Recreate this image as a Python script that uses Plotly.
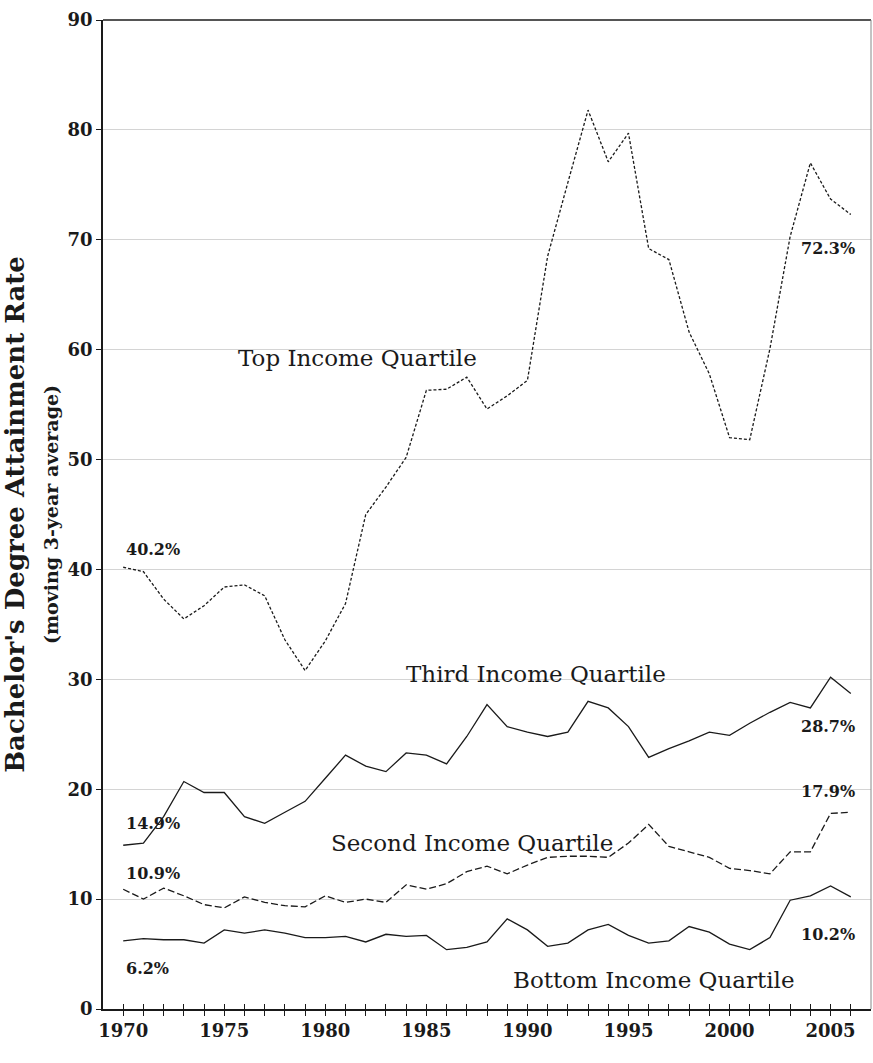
import plotly.graph_objects as go

years = list(range(1970, 2007))

top_quartile = [40.2, 39.8, 37.3, 35.5, 36.7, 38.4, 38.6, 37.6, 33.6, 30.8,
                33.5, 36.9, 45.0, 47.5, 50.2, 56.3, 56.4, 57.5, 54.6, 55.8,
                57.2, 68.5, 75.2, 81.8, 77.1, 79.7, 69.2, 68.2, 61.6, 57.8,
                52.0, 51.8, 60.1, 70.3, 77.0, 73.7, 72.3]
third_quartile = [14.9, 15.1, 17.5, 20.7, 19.7, 19.7, 17.5, 16.9, 17.9, 18.9,
                  21.0, 23.1, 22.1, 21.6, 23.3, 23.1, 22.3, 24.8, 27.7, 25.7,
                  25.2, 24.8, 25.2, 28.0, 27.4, 25.7, 22.9, 23.7, 24.4, 25.2,
                  24.9, 26.0, 27.0, 27.9, 27.4, 30.2, 28.7]
second_quartile = [10.9, 10.0, 11.0, 10.3, 9.5, 9.2, 10.2, 9.7, 9.4, 9.3,
                   10.3, 9.7, 10.0, 9.7, 11.3, 10.9, 11.4, 12.5, 13.0, 12.3,
                   13.1, 13.8, 13.9, 13.9, 13.8, 15.1, 16.8, 14.8, 14.3, 13.8,
                   12.8, 12.6, 12.3, 14.3, 14.3, 17.8, 17.9]
bottom_quartile = [6.2, 6.4, 6.3, 6.3, 6.0, 7.2, 6.9, 7.2, 6.9, 6.5,
                   6.5, 6.6, 6.1, 6.8, 6.6, 6.7, 5.4, 5.6, 6.1, 8.2,
                   7.2, 5.7, 6.0, 7.2, 7.7, 6.7, 6.0, 6.2, 7.5, 7.0,
                   5.9, 5.4, 6.5, 9.9, 10.3, 11.2, 10.2]

serif = "DejaVu Serif"
ink = "#1a1a1a"

fig = go.Figure()

# series: (values, dash pattern)
series = [
    (top_quartile, "3px,2px"),
    (third_quartile, "solid"),
    (second_quartile, "7px,3px"),
    (bottom_quartile, "solid"),
]
for vals, dash in series:
    fig.add_trace(go.Scatter(x=years, y=vals, mode="lines",
                             line=dict(color=ink, width=1.3, dash=dash),
                             showlegend=False))

# series labels (left edge, y)
labels = [
    ("Top Income Quartile", 1975.6, 59.2),
    ("Third Income Quartile", 1983.9, 30.5),
    ("Second Income Quartile", 1980.2, 15.1),
    ("Bottom Income Quartile", 1989.2, 2.6),
]
for text, x, y in labels:
    fig.add_annotation(x=x, y=y, text=text, showarrow=False, xanchor="left",
                       font=dict(family=serif, size=23, color=ink))

# start / end values
start_labels = [("40.2%", 41.8), ("14.9%", 16.9), ("10.9%", 12.3), ("6.2%", 3.7)]
end_labels = [("72.3%", 69.2), ("28.7%", 25.7), ("17.9%", 19.8), ("10.2%", 6.8)]
for text, y in start_labels:
    fig.add_annotation(x=1970, y=y, text="<b>" + text + "</b>", showarrow=False,
                       xanchor="left", xshift=1,
                       font=dict(family=serif, size=16, color=ink))
for text, y in end_labels:
    fig.add_annotation(x=2006, y=y, text="<b>" + text + "</b>", showarrow=False,
                       xanchor="right", xshift=6,
                       font=dict(family=serif, size=16, color=ink))

tick_text = [str(y) if y % 5 == 0 else "" for y in years]

fig.update_layout(
    width=873, height=1063,
    margin=dict(l=103, r=2, t=20, b=54),
    plot_bgcolor="white", paper_bgcolor="white",
    font=dict(family=serif, color=ink),
    xaxis=dict(range=[1969, 2007], tickvals=years, ticktext=tick_text,
               ticks="outside", ticklen=5, tickcolor=ink, showgrid=False,
               showline=True, linecolor=ink, linewidth=1.5, zeroline=False,
               automargin=False,
               tickfont=dict(family=serif, size=18, color=ink, weight="bold")),
    # second x axis only to draw the inner half of the crossing ticks
    xaxis2=dict(range=[1969, 2007], overlaying="x", anchor="y", side="bottom",
                tickvals=years, ticks="inside", ticklen=5, tickcolor=ink,
                showticklabels=False, showgrid=False, showline=False,
                zeroline=False, automargin=False),
    yaxis=dict(range=[0, 90], tickvals=list(range(0, 100, 10)),
               ticks="outside", ticklen=5, tickcolor=ink,
               showgrid=True, gridcolor="#d4d4d4", gridwidth=1,
               showline=True, linecolor=ink, linewidth=1.5, zeroline=False,
               automargin=False,
               tickfont=dict(family=serif, size=18, color=ink, weight="bold"),
               title=dict(text="<b>Bachelor's Degree Attainment Rate</b><br>"
                               "<span style='font-size:19px'><b>(moving 3-year average)</b></span>",
                          font=dict(family=serif, size=26, color=ink), standoff=5)),
)

# invisible trace so that xaxis2 is drawn
fig.add_trace(go.Scatter(x=[years[0]], y=[None], xaxis="x2", showlegend=False,
                         hoverinfo="skip"))

# frame top and right
fig.update_layout(shapes=[
    dict(type="line", xref="paper", yref="paper", x0=0, x1=1, y0=1, y1=1,
         line=dict(color="#555555", width=2)),
    dict(type="line", xref="paper", yref="paper", x0=1, x1=1, y0=0, y1=1,
         line=dict(color="#888888", width=1)),
])

# page body has an 8px default margin; drop it so the figure fills the window
fig.write_html("out.html", config={"displayModeBar": False},
               post_script="document.body.style.margin='0';")
